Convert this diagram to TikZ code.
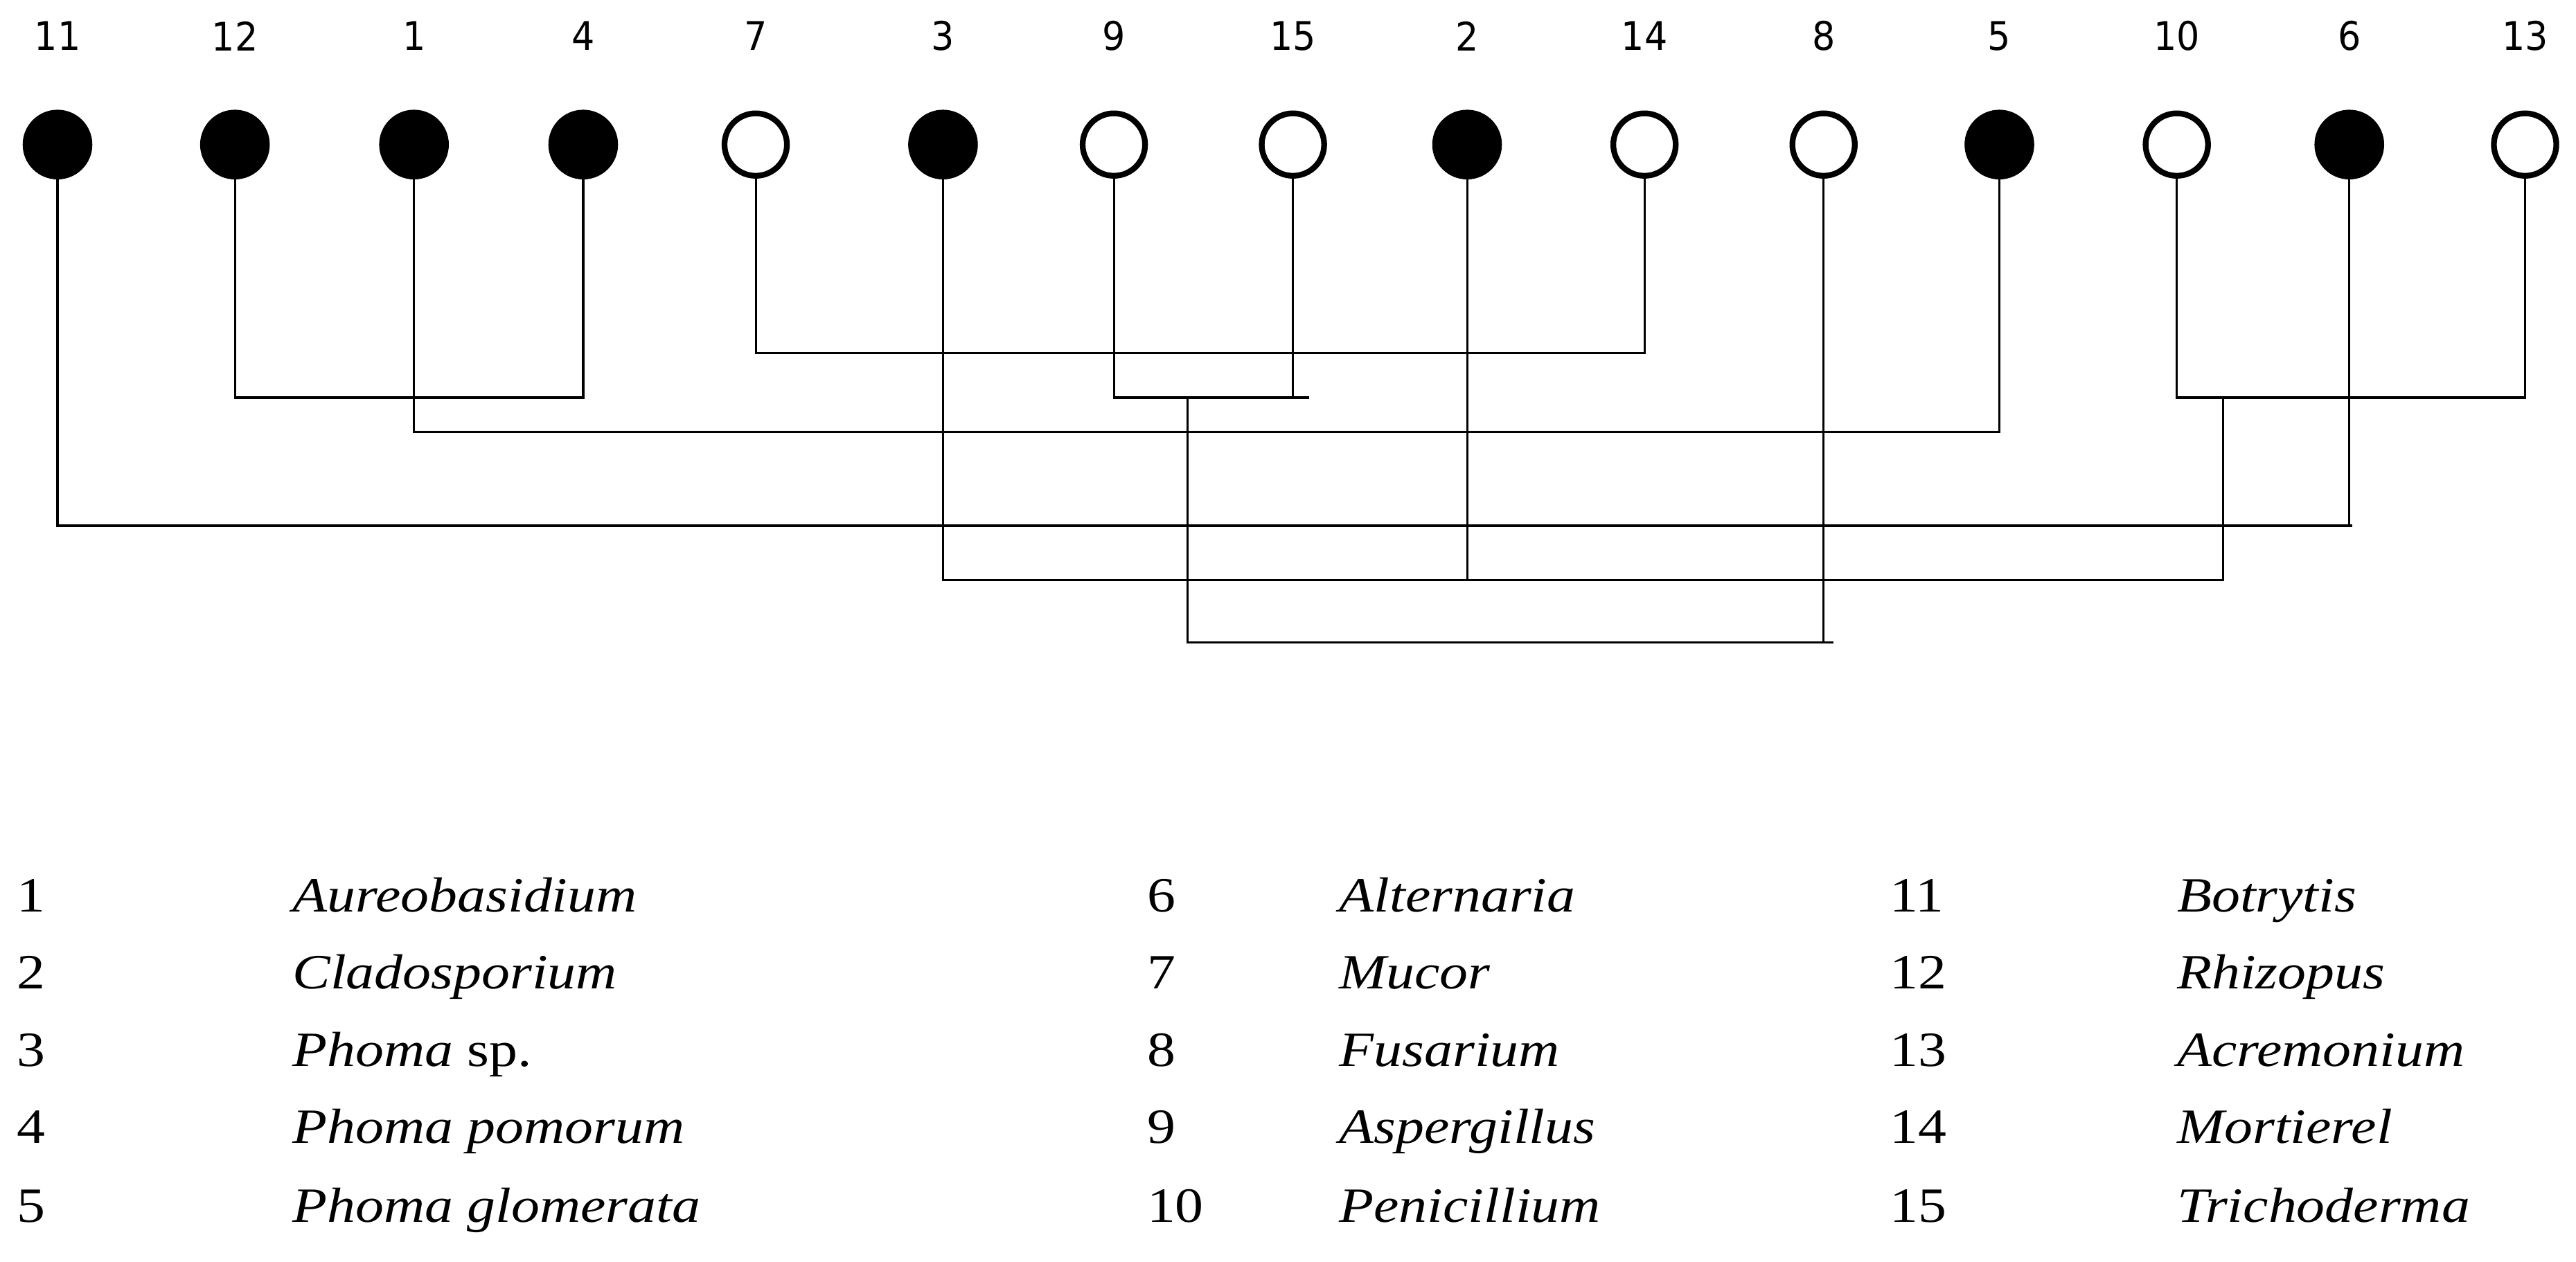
\documentclass[tikz,border=0pt]{standalone}
\usepackage{fontspec}
\setmainfont{Liberation Serif}[FakeStretch=1.15]
\newfontfamily\numfont{DejaVu Sans}[FakeStretch=0.92]
\begin{document}
\begin{tikzpicture}[x=1pt,y=-1pt,
  filled/.style={circle,fill=black,draw=black,minimum size=42pt,inner sep=0pt},
  open/.style={circle,fill=white,draw=black,line width=3.5pt,minimum size=38pt,inner sep=0pt},
  toplab/.style={font=\numfont\fontsize{24}{26}\selectfont},
  leg/.style={anchor=base west,font=\fontsize{30}{32}\selectfont},
  link/.style={line width=1.3pt}]
\useasboundingbox (0,0) rectangle (1568,768);
\foreach \n/\x/\s in {11/35/filled,12/143/filled,1/252/filled,4/355/filled,7/460/open,3/574/filled,9/678/open,15/787/open,2/893/filled,14/1001/open,8/1110/open,5/1217/filled,10/1325/open,6/1430/filled,13/1537/open}{
  \node[\s] (c\n) at (\x,88) {};
  \node[toplab] (t\n) at (\x,22) {\n};
}
% clusters
\coordinate (k7) at (c7 |- 0,215); \coordinate (k14) at (c14 |- 0,215);
\draw[link] (c7) -- (k7) -- (k14) -- (c14);
\coordinate (k12) at (c12 |- 0,242); \coordinate (k4) at (c4 |- 0,242);
\draw[link] (c12) -- (k12) -- (k4) -- (c4);
\coordinate (k9) at (c9 |- 0,242); \coordinate (k15) at (c15 |- 0,242); \coordinate (e15) at (797,242);
\draw[link] (c9) -- (k9) -- (e15); \draw[link] (c15) -- (k15);
\coordinate (k1) at (c1 |- 0,263); \coordinate (k5) at (c5 |- 0,263);
\draw[link] (c1) -- (k1) -- (k5) -- (c5);
\coordinate (k10) at (c10 |- 0,242); \coordinate (k13) at (c13 |- 0,242);
\draw[link] (c10) -- (k10) -- (k13) -- (c13);
\coordinate (k11) at (c11 |- 0,320); \coordinate (k6) at (c6 |- 0,320); \coordinate (e6) at (1432,320);
\draw[link] (c11) -- (k11) -- (e6); \draw[link] (c6) -- (k6);
\coordinate (m1013) at (1353,242); \coordinate (b1013) at (1353,353);
\coordinate (k3) at (c3 |- 0,353); \coordinate (k2) at (c2 |- 0,353);
\draw[link] (c3) -- (k3) -- (b1013) -- (m1013); \draw[link] (c2) -- (k2);
\coordinate (m915) at (723,242); \coordinate (b915) at (723,391);
\coordinate (k8) at (c8 |- 0,391); \coordinate (e8) at (1116,391);
\draw[link] (m915) -- (b915) -- (e8); \draw[link] (c8) -- (k8);
% legend
\foreach \n/\x/\o/\y/\t in {
 1/10/168/547/{\textit{Aureobasidium}},2/10/168/594/{\textit{Cladosporium}},3/10/168/641/{\textit{Phoma} sp.},4/10/168/688/{\textit{Phoma pomorum}},5/10/168/736/{\textit{Phoma glomerata}},
 6/698/117/547/{\textit{Alternaria}},7/698/117/594/{\textit{Mucor}},8/698/117/641/{\textit{Fusarium}},9/698/117/688/{\textit{Aspergillus}},10/698/117/736/{\textit{Penicillium}},
 11/1150/175/547/{\textit{Botrytis}},12/1150/175/594/{\textit{Rhizopus}},13/1150/175/641/{\textit{Acremonium}},14/1150/175/688/{\textit{Mortierel}},15/1150/175/736/{\textit{Trichoderma}}}{
  \node[leg,inner sep=0pt] (ln\n) at (\x,\y+8) {\n};
  \node[leg,inner sep=0pt] (lt\n) at ([xshift=\o pt]ln\n.base west) {\t};
}
\end{tikzpicture}
\end{document}
